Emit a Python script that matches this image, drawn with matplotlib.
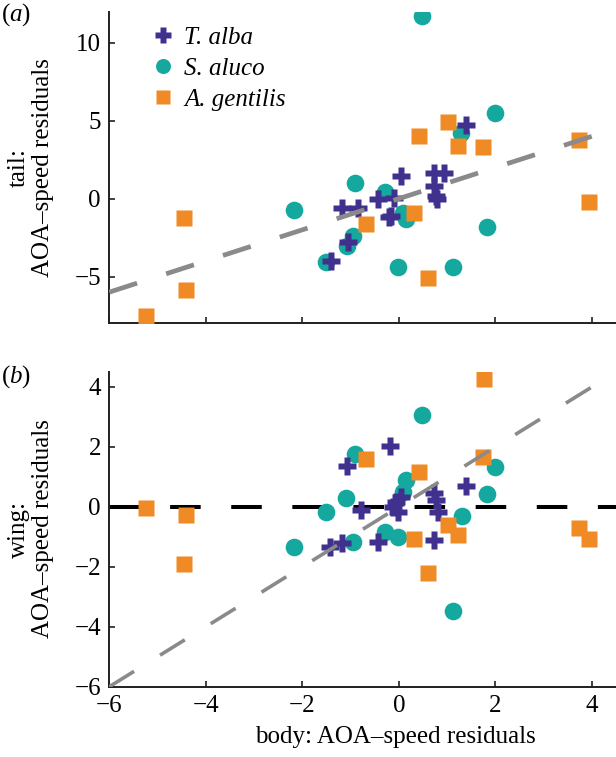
import matplotlib
matplotlib.use("Agg")
import matplotlib.pyplot as plt

plt.rcParams['font.family'] = ['Liberation Serif', 'DejaVu Serif']
plt.rcParams['mathtext.fontset'] = 'custom'
plt.rcParams['mathtext.rm'] = 'Liberation Serif'
plt.rcParams['mathtext.it'] = 'Liberation Serif:italic'
plt.rcParams['lines.scale_dashes'] = False

# ---- data (panel a: tail vs body) ----
top_alba_x = [1.39, 0.04, 0.73, 0.94, 0.73, 0.77, 0.80, -0.10, -0.44, -0.16, -0.21, -1.17, -0.85, -1.06, -1.41]
top_alba_y = [4.74, 1.44, 1.66, 1.66, 0.80, 0.17, -0.04, 0.06, -0.04, -1.11, -1.19, -0.57, -0.57, -2.81, -3.98]
top_aluco_x = [-2.17, -1.51, -0.91, -0.29, -0.96, -1.08, 0.15, 0.09, -0.02, 1.13, 1.83, 2.00, 1.29, 0.48]
top_aluco_y = [-0.73, -4.04, 0.98, 0.42, -2.38, -3.02, -1.32, -0.95, -4.40, -4.40, -1.85, 5.48, 4.21, 11.71]
top_gent_x = [-5.23, -4.45, -4.42, -0.68, 0.32, 0.41, 0.61, 1.02, 1.22, 1.75, 3.74, 3.94]
top_gent_y = [-7.53, -1.21, -5.85, -1.64, -0.89, 4.04, -5.10, 4.95, 3.36, 3.29, 3.78, -0.22]

# ---- data (panel b: wing vs body) ----
bot_alba_x = [-0.18, -1.08, 1.39, 0.73, 0.77, 0.82, 0.04, -0.06, -0.13, -0.02, -0.79, -1.42, -1.17, -0.44, 0.73]
bot_alba_y = [2.04, 1.38, 0.68, 0.46, 0.22, -0.17, 0.33, 0.16, 0.00, -0.17, -0.12, -1.34, -1.20, -1.17, -1.09]
bot_aluco_x = [-1.51, -2.17, -1.10, 0.49, -0.91, -0.96, 0.15, 0.09, -0.29, -0.02, 1.31, 1.83, 1.12, 2.00]
bot_aluco_y = [-0.17, -1.34, 0.31, 3.07, 1.77, -1.17, 0.91, 0.49, -0.84, -1.00, -0.30, 0.44, -3.49, 1.32]
bot_gent_x = [-5.23, -4.42, -4.45, 1.77, 1.74, 1.01, 1.22, 3.74, 3.94, -0.68, 0.41, 0.32, 0.61]
bot_gent_y = [-0.04, -0.28, -1.92, 4.26, 1.68, -0.61, -0.95, -0.72, -1.06, 1.60, 1.18, -1.08, -2.19]

# reference lines
ref_x = [-6, 4.5]          # identity line y = x
zero_y = [0, 0]

species = ['T. alba', 'S. aluco', 'A. gentilis']
colors = {'alba': '#41318f', 'aluco': '#14a89e', 'gent': '#ef8a25'}

x_ticks = [-6, -4, -2, 0, 2, 4]
top_yticks = [-5, 0, 5, 10]
bot_yticks = [-6, -4, -2, 0, 2, 4]

FS = 18
W, H = 616, 757
fig = plt.figure(figsize=(W / 100, H / 100), dpi=100)

left = 109.3 / W
ax1 = fig.add_axes([left, 1 - 323.3 / H, 1 - left, (323.3 - 11.7) / H])
ax2 = fig.add_axes([left, 1 - 686.7 / H, 1 - left, (686.7 - 372) / H])

spine_col = '#231f20'
for ax in (ax1, ax2):
    for s in ('top', 'right'):
        ax.spines[s].set_visible(False)
    for s in ('left', 'bottom'):
        ax.spines[s].set_linewidth(1.4)
        ax.spines[s].set_color(spine_col)
    ax.tick_params(direction='in', length=4, width=1.2, colors=spine_col,
                   labelsize=FS, pad=6, labelcolor='black')
    ax.set_xlim(-6, 4.5)
    ax.set_xticks(x_ticks)

ms_plus, ms_circ, ms_sq = 13.5, 12.7, 11.3

def scatter_panel(ax, ax_x, ax_y, al_x, al_y, ge_x, ge_y):
    h2, = ax.plot(al_x, al_y, 'o', ms=ms_circ, color=colors['aluco'], mec='none', zorder=3)
    h1, = ax.plot(ax_x, ax_y, 'P', ms=ms_plus, color=colors['alba'], mec='none', zorder=4)
    h3, = ax.plot(ge_x, ge_y, 's', ms=ms_sq, color=colors['gent'], mec='none', zorder=5)
    return h1, h2, h3

# panel a
ax1.plot(ref_x, ref_x, color='#8a8a8a', lw=3.4, dashes=(21, 22), dash_capstyle='butt', zorder=6)
h = scatter_panel(ax1, top_alba_x, top_alba_y, top_aluco_x, top_aluco_y, top_gent_x, top_gent_y)
ax1.set_ylim(-8, 12)
ax1.set_yticks(top_yticks)
ax1.set_xticklabels([])
leg = ax1.legend(h, species, loc='upper left', bbox_to_anchor=(0.062, 0.985), frameon=False,
                 prop={'family': 'Liberation Serif', 'style': 'italic', 'size': FS},
                 handletextpad=0.35, labelspacing=0.34, handlelength=1.0, markerscale=0.85,
                 borderaxespad=0.0)

# panel b
ax2.plot(ref_x, zero_y, color='black', lw=2.9, dashes=(22, 22), dash_capstyle='butt', zorder=2)
ax2.plot(ref_x, ref_x, color='#8a8a8a', lw=2.6, dashes=(21, 22), dash_capstyle='butt', zorder=6)
scatter_panel(ax2, bot_alba_x, bot_alba_y, bot_aluco_x, bot_aluco_y, bot_gent_x, bot_gent_y)
ax2.set_ylim(-6, 4.5)
ax2.set_yticks(bot_yticks)
ax2.set_xlabel('body: AOA\u2013speed residuals', fontsize=FS)
ax2.xaxis.set_label_coords((395 - 109.3) / (616 - 109.3), (686.7 - 726) / (686.7 - 372))

# y labels
fig.text(31 / W, 1 - 167.5 / H, 'tail:\nAOA\u2013speed residuals', rotation=90,
         ha='center', va='center', multialignment='center', fontsize=FS, linespacing=1.1)
fig.text(31 / W, 1 - 529 / H, 'wing:\nAOA\u2013speed residuals', rotation=90,
         ha='center', va='center', multialignment='center', fontsize=FS, linespacing=1.1)

# panel letters
fig.text(1 / W, 1 - 15 / H, r'($\mathit{a}$)', fontsize=FS, ha='left', va='center')
fig.text(1 / W, 1 - 377 / H, r'($\mathit{b}$)', fontsize=FS, ha='left', va='center')

fig.savefig('out.png', dpi=100)
